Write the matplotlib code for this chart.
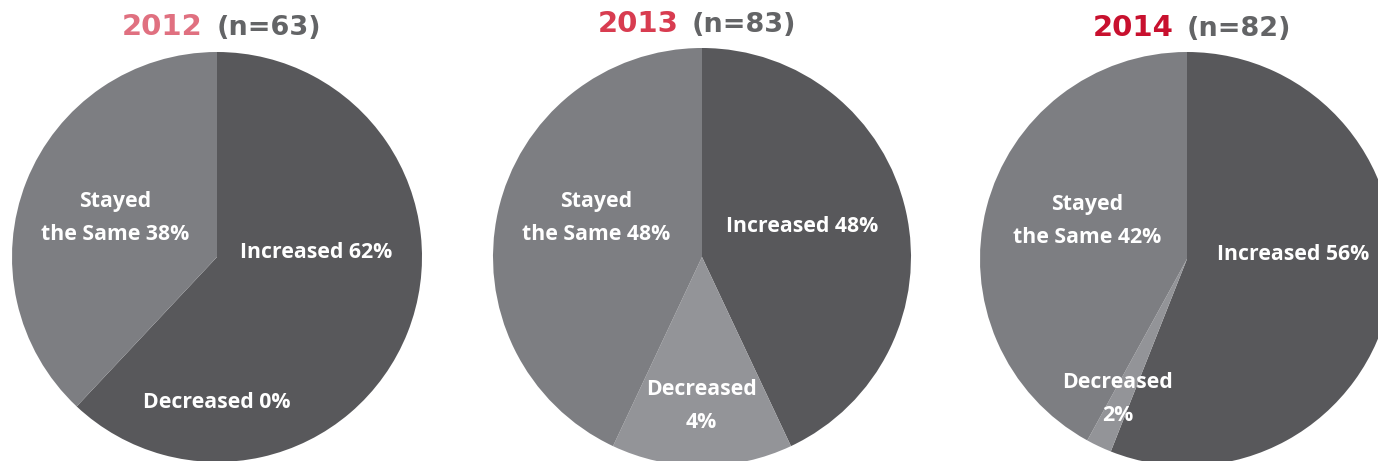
import matplotlib.pyplot as plt

# Données
annees = ['2012', '2013', '2014']
effectifs = [63, 83, 82]
categories = ['Increased', 'Decreased', 'Stayed\nthe Same']
# pourcentages affichés dans les étiquettes
pct_affiches = [[62, 0, 38], [48, 4, 48], [56, 2, 42]]
# parts des secteurs telles que dessinées (le 4 % de 2013 est dessiné plus large)
parts_dessinees = [[62, 0, 38], [43, 14, 43], [56, 2, 42]]

couleurs = ['#58585b', '#939498', '#7d7e82']
couleurs_annees = ['#e07080', '#d83c50', '#c8102e']
gris_titre = '#636466'

W, H = 1378, 461
fig = plt.figure(figsize=(W / 100, H / 100), dpi=100)
ax = fig.add_axes([0, 0, 1, 1])

# mise en page en pixels (y vers le haut)
centres = [(217, H - 257), (702, H - 257), (1187, H - 259)]
rayons = [205, 209, 207]
titre_x = [(203, 217), (679, 692), (1174, 1187)]
titre_y = [H - 35, H - 32, H - 36]
pos_etiquettes = [
    [(316, 252), (217, 403), (115, 218)],
    [(802, 227), (701, 406), (596, 218)],
    [(1293, 255), (1118, 399), (1087, 221)],
]

fonte = 'Open Sans'
fonte_titre = 'DejaVu Sans'

for i in range(3):
    ax.pie(parts_dessinees[i], colors=couleurs, startangle=90, counterclock=False,
           center=centres[i], radius=rayons[i],
           wedgeprops=dict(linewidth=0))
    for j in range(3):
        nom = categories[j]
        if i > 0 and j == 1:
            nom = 'Decreased\n'
        else:
            nom = nom + ' '
        texte = f'{nom}{pct_affiches[i][j]}%'
        x, y = pos_etiquettes[i][j]
        ax.text(x, H - y, texte, ha='center', va='center', color='white',
                fontsize=15.3, fontweight='bold', family=fonte, linespacing=1.75,
                multialignment='center')
    ax.text(titre_x[i][0], titre_y[i], annees[i], ha='right', va='baseline',
            color=couleurs_annees[i], fontsize=21, fontweight='bold', family=fonte_titre)
    ax.text(titre_x[i][1], titre_y[i], f'(n={effectifs[i]})', ha='left', va='baseline',
            color=gris_titre, fontsize=19.5, fontweight='bold', family=fonte_titre)

ax.set_xlim(0, W)
ax.set_ylim(0, H)
ax.set_aspect('equal')
ax.axis('off')
fig.savefig('out.png', dpi=100, facecolor='white')
